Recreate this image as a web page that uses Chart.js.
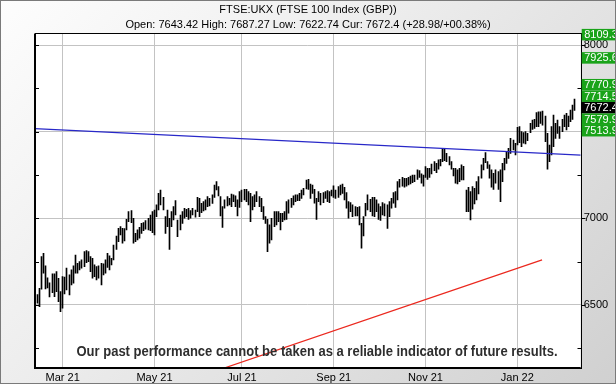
<!DOCTYPE html>
<html>
<head>
<meta charset="utf-8">
<script src="https://cdn.jsdelivr.net/npm/chart.js@4.4.1/dist/chart.umd.min.js"></script>
<style>
  html, body { margin: 0; padding: 0; }
  #wrap { position: relative; width: 616px; height: 384px;
    background: linear-gradient(135deg, #fdfdfd 0%, #ededed 40%, #d0d0d0 100%); }
  #wrap canvas { position: absolute; left: 0; top: 0; }
  #edge { position: absolute; left: 0; top: 0; right: 0; bottom: 0; border: 1px solid #7a7a7a; pointer-events: none; }
</style>
</head>
<body>
<div id="wrap"><canvas id="chart" width="616" height="384"></canvas><div id="edge"></div></div>
<script>
// daily bars, 11 Feb 2021 .. 10 Feb 2022 (index = trading day)
const lows = [
  6510, 6490, 6591, 6683, 6592, 6598, 6546, 6571, 6548, 6577, 6519, 6461, 6481, 6564, 6587, 6558,
  6615, 6625, 6683, 6683, 6702, 6712, 6721, 6744, 6750, 6692, 6654, 6663, 6644, 6654, 6615, 6673,
  6683, 6717, 6702, 6731, 6760, 6821, 6865, 6904, 6856, 6870, 6933, 6981, 6975, 6856, 6865, 6875,
  6885, 6913, 6929, 6937, 6933, 6929, 6917, 6904, 7010, 7048, 7077, 7048, 6913, 6952, 6821, 6952,
  6990, 7019, 6894, 6933, 6971, 7000, 7010, 6994, 7000, 7019, 7006, 7038, 7010, 7033, 7042, 7048,
  7067, 7071, 7086, 7120, 7163, 7129, 7013, 6948, 7058, 7071, 7077, 7067, 7096, 7067, 7013, 7063,
  7096, 7106, 7096, 7077, 6981, 7048, 7067, 7096, 7067, 7038, 6994, 6971, 6808, 6856, 6875, 6952,
  6962, 6981, 6933, 6981, 6990, 6994, 7029, 7063, 7077, 7096, 7102, 7102, 7115, 7135, 7170, 7167,
  7115, 7144, 7087, 6994, 7096, 7077, 7090, 7115, 7096, 7090, 7129, 7121, 7115, 7121, 7135, 7144,
  7106, 7058, 7000, 7038, 7010, 7013, 7013, 6962, 6827, 6898, 7013, 7048, 7038, 7013, 7010, 7038,
  6994, 6987, 7019, 7013, 6942, 7010, 7058, 7087, 7063, 7106, 7179, 7186, 7179, 7186, 7192, 7198,
  7206, 7212, 7225, 7236, 7202, 7186, 7236, 7225, 7236, 7256, 7275, 7263, 7283, 7302, 7327, 7333,
  7327, 7308, 7283, 7244, 7202, 7198, 7212, 7221, 7221, 7038, 7038, 6990, 7052, 7083, 7106, 7140,
  7231, 7279, 7321, 7288, 7231, 7180, 7167, 7202, 7167, 7096, 7212, 7279, 7317, 7346, 7375, 7394,
  7365, 7423, 7436, 7413, 7433, 7429, 7448, 7494, 7513, 7519, 7529, 7529, 7548, 7538, 7442, 7283,
  7327, 7365, 7413, 7461, 7490, 7461, 7500, 7529, 7510, 7529, 7558, 7571, 7622.74
];
const highs = [
  6560, 6596, 6779, 6798, 6725, 6656, 6627, 6679, 6679, 6692, 6654, 6577, 6663, 6660, 6712, 6673,
  6702, 6725, 6788, 6740, 6750, 6760, 6808, 6813, 6808, 6779, 6769, 6731, 6721, 6725, 6740, 6737,
  6760, 6798, 6783, 6769, 6846, 6898, 6942, 6952, 6942, 6940, 6994, 7038, 7044, 7000, 6913, 6933,
  6948, 6971, 6975, 6987, 7000, 7019, 7038, 7048, 7077, 7144, 7163, 7121, 7010, 7048, 7000, 7038,
  7067, 7102, 6990, 7019, 7038, 7058, 7052, 7058, 7044, 7058, 7048, 7121, 7115, 7086, 7096, 7106,
  7125, 7115, 7135, 7192, 7212, 7183, 7125, 7067, 7106, 7125, 7115, 7140, 7135, 7129, 7106, 7154,
  7163, 7167, 7167, 7154, 7144, 7125, 7135, 7154, 7125, 7115, 7067, 7010, 6994, 6962, 7000, 7038,
  7038, 7038, 7029, 7029, 7038, 7096, 7106, 7115, 7129, 7135, 7135, 7144, 7163, 7173, 7221, 7225,
  7198, 7192, 7167, 7115, 7154, 7144, 7148, 7154, 7160, 7154, 7163, 7187, 7163, 7183, 7192, 7198,
  7179, 7148, 7096, 7090, 7077, 7067, 7063, 7067, 6971, 7010, 7087, 7135, 7110, 7121, 7121, 7106,
  7083, 7067, 7090, 7083, 7077, 7096, 7115, 7148, 7154, 7212, 7225, 7236, 7231, 7231, 7236, 7244,
  7250, 7250, 7279, 7275, 7256, 7250, 7298, 7288, 7288, 7313, 7327, 7317, 7337, 7340, 7398, 7398,
  7375, 7356, 7327, 7288, 7288, 7279, 7288, 7308, 7300, 7163, 7179, 7154, 7183, 7173, 7212, 7240,
  7308, 7346, 7379, 7327, 7308, 7279, 7260, 7279, 7269, 7279, 7317, 7346, 7385, 7404, 7461, 7452,
  7433, 7525, 7529, 7500, 7494, 7500, 7490, 7548, 7567, 7571, 7610, 7615, 7615, 7619, 7590, 7490,
  7423, 7529, 7596, 7548, 7567, 7529, 7571, 7596, 7606, 7590, 7625, 7654, 7687.27
];

// month ticks: index of first trading day of the month
const monthIndex = [12, 55, 96, 139, 182, 225];
const monthLabels = ['Mar 21', 'May 21', 'Jul 21', 'Sep 21', 'Nov 21', 'Jan 22'];
const yTicks = [6250, 6500, 6750, 7000, 7250, 7500, 7750, 8000];

// trend lines [start, end] as {x: trading day, y: price}
const blueTrend = [{ x: -1.17, y: 7518 }, { x: 254.7, y: 7364 }];
const redTrend = [{ x: 88, y: 6137 }, { x: 236.6, y: 6760 }];

const priceLevels = [8109.3, 7925.6, 7770.9, 7714.5, 7579.9, 7513.9];
const currentPrice = 7672.4;

const titleText = 'FTSE:UKX (FTSE 100 Index (GBP))';
const quoteText = 'Open: 7643.42 High: 7687.27 Low: 7622.74 Cur: 7672.4 (+28.98/+00.38%)';
const disclaimer = 'Our past performance cannot be taken as a reliable indicator of future results.';

const FONT = "'Liberation Sans', Arial, sans-serif";

function line(ctx, x1, y1, x2, y2) {
    ctx.beginPath();
    ctx.moveTo(x1, y1);
    ctx.lineTo(x2, y2);
    ctx.stroke();
}

const framePlugin = {
    id: 'frame',
    beforeDraw(chart) {
        const { ctx, chartArea: a } = chart;
        ctx.save();
        ctx.fillStyle = '#fff';
        ctx.fillRect(a.left, a.top, a.right - a.left, a.bottom - a.top);
        ctx.restore();
    },
    beforeDatasetsDraw(chart) {
        // snap the 1px bars onto whole pixels so they stay crisp
        chart.getDatasetMeta(2).data.forEach(el => { el.x = Math.floor(el.x) + 0.5; });
    },
    afterDatasetsDraw(chart) {
        const { ctx, chartArea: a } = chart;
        const ys = chart.scales.y;
        ctx.save();
        // disclaimer, squeezed to the narrow width of the original
        ctx.font = 'bold 14px ' + FONT;
        ctx.fillStyle = '#2e2e2e';
        ctx.textAlign = 'center';
        ctx.textBaseline = 'middle';
        const w = ctx.measureText(disclaimer).width;
        ctx.translate(317, 352);
        ctx.scale(481 / w, 1);
        ctx.fillText(disclaimer, 0, 0);
        ctx.setTransform(1, 0, 0, 1, 0, 0);
        // plot border
        ctx.strokeStyle = '#000';
        ctx.lineWidth = 1;
        ctx.strokeRect(Math.round(a.left) + 0.5, Math.round(a.top) + 0.5,
            Math.round(a.right) - Math.round(a.left), Math.round(a.bottom) - Math.round(a.top));
        ctx.lineWidth = 2;
        line(ctx, Math.round(a.left), a.top, Math.round(a.left), a.bottom + 1);
        line(ctx, a.left, Math.round(a.bottom), a.right, Math.round(a.bottom));
        // tick marks
        ctx.lineWidth = 1;
        const L = Math.round(a.left), R = Math.round(a.right) + 0.5;
        yTicks.forEach(v => {
            const py = Math.round(ys.getPixelForValue(v)) + 0.5;
            line(ctx, L, py, L + 4, py);
            if (v % 500 === 0) line(ctx, R, py, R + 4, py);
            else line(ctx, R - 4, py, R, py);
        });
        ctx.restore();
    },
    afterDraw(chart) {
        const { ctx, chartArea: a, width } = chart;
        const ys = chart.scales.y;
        const all = priceLevels.map(v => ({ v, cur: false }));
        all.push({ v: currentPrice, cur: true });
        all.sort((p, q) => q.v - p.v);
        const h = 11.5;
        let bottom = a.top - 4.5;
        ctx.save();
        ctx.font = '11px ' + FONT;
        ctx.textBaseline = 'middle';
        ctx.textAlign = 'left';
        all.forEach(p => {
            const top = Math.max(bottom, ys.getPixelForValue(p.v) - h / 2);
            ctx.fillStyle = p.cur ? '#000' : '#19a319';
            ctx.fillRect(a.right + 1, top, width - a.right - 1, h);
            ctx.fillStyle = '#fff';
            ctx.fillText(p.v.toFixed(1), a.right + 3.5, top + h / 2 + 0.5);
            bottom = top + h;
        });
        ctx.restore();
    }
};

new Chart(document.getElementById('chart'), {
    data: {
        datasets: [
            {
                type: 'line',
                data: blueTrend,
                borderColor: 'rgb(40,40,200)',
                borderWidth: 1.2,
                pointRadius: 0,
                yAxisID: 'y',
                order: 0
            },
            {
                type: 'line',
                data: redTrend,
                borderColor: 'rgb(235,40,30)',
                borderWidth: 1.2,
                pointRadius: 0,
                yAxisID: 'y',
                order: 0
            },
            {
                type: 'bar',
                data: lows.map((l, i) => ({ x: i, y: [l, highs[i]] })),
                backgroundColor: '#000',
                borderWidth: 0,
                barThickness: 1,
                grouped: false,
                yAxisID: 'y',
                order: 1
            }
        ]
    },
    options: {
        responsive: false,
        animation: false,
        layout: { padding: 0 },
        plugins: {
            legend: { display: false },
            tooltip: { enabled: false },
            title: {
                display: true,
                text: titleText,
                color: '#000',
                font: { family: FONT, size: 11, weight: 'normal' },
                padding: { top: 3, bottom: 2 }
            },
            subtitle: {
                display: true,
                text: quoteText,
                color: '#000',
                font: { family: FONT, size: 11 },
                padding: { top: 0, bottom: 2 }
            }
        },
        scales: {
            x: {
                type: 'linear',
                offset: false,
                min: -1.17,
                max: 254.7,
                afterBuildTicks: s => { s.ticks = monthIndex.map(v => ({ value: v })); },
                afterFit: s => { s.height = 16; },
                grid: { color: '#c3c3c3', drawTicks: false, offset: false },
                border: { display: false },
                ticks: {
                    autoSkip: false,
                    maxRotation: 0,
                    padding: 3,
                    color: '#000',
                    font: { family: FONT, size: 11 },
                    callback: (v, i) => monthLabels[i]
                }
            },
            y: {
                position: 'right',
                min: 6136,
                max: 8067,
                afterBuildTicks: s => { s.ticks = yTicks.map(v => ({ value: v })); },
                afterFit: s => { s.width = 35.3; },
                grid: {
                    color: c => (c.tick && c.tick.value % 500 === 0) ? '#c3c3c3' : 'rgba(0,0,0,0)',
                    drawTicks: false
                },
                border: { display: false },
                ticks: {
                    padding: 3,
                    color: '#000',
                    font: { family: FONT, size: 11 },
                    callback: v => (v % 500 === 0 ? String(v) : '')
                }
            },
            yLeft: {
                position: 'left',
                afterFit: s => { s.width = 34.6; },
                grid: { display: false },
                border: { display: false },
                ticks: { display: false }
            }
        }
    },
    plugins: [framePlugin]
});
</script>
</body>
</html>
